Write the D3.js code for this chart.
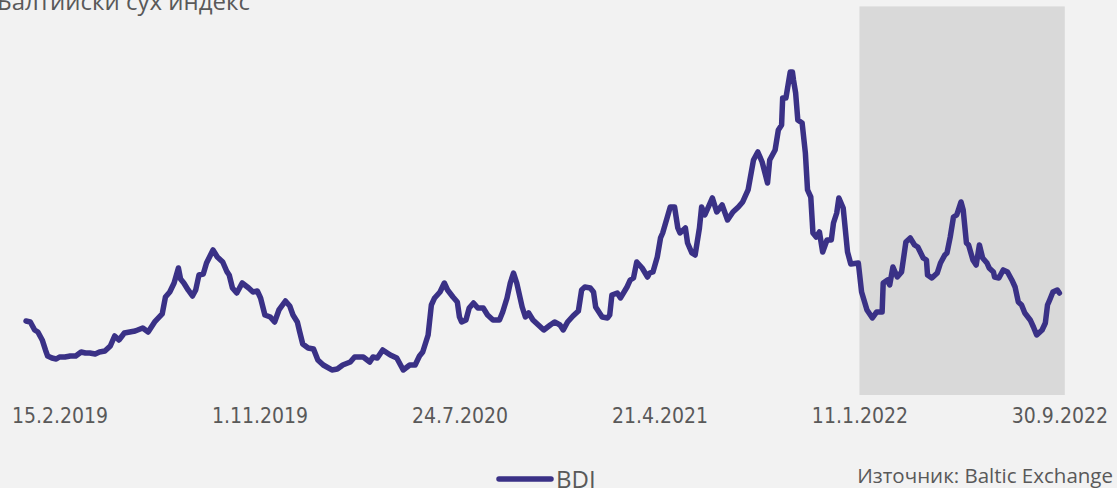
<!DOCTYPE html>
<html>
<head>
<meta charset="utf-8">
<script src="https://cdn.jsdelivr.net/npm/d3@7"></script>
<style>
    html, body { margin: 0; padding: 0; background: #f2f2f2; overflow: hidden; }
    svg { display: block; }
    text { fill: #595959; }
</style>
</head>
<body>
<div id="chart"></div>
<script>
// trading day (counted from the first value) and BDI close
let days = [
    0, 4, 8, 11, 15, 18, 20, 24, 28, 31, 36, 41, 46, 51, 55, 59, 64, 68, 73, 78,
    82, 86, 91, 96, 101, 108, 113, 119, 126, 129, 133, 137, 141, 143, 146, 150, 154, 157, 160, 164,
    167, 173, 177, 182, 186, 188, 191, 195, 200, 206, 210, 214, 217, 221, 226, 230, 234, 240, 244, 247,
    251, 253, 256, 261, 266, 270, 275, 283, 288, 293, 300, 304, 312, 318, 321, 325, 330, 337, 343, 349,
    355, 360, 364, 367, 372, 375, 378, 383, 387, 390, 395, 399, 401, 403, 407, 410, 414, 418, 423, 427,
    432, 438, 441, 445, 448, 451, 454, 459, 462, 465, 469, 474, 479, 485, 489, 494, 497, 501, 506, 511,
    514, 517, 522, 525, 527, 533, 538, 540, 542, 547, 550, 556, 559, 562, 565, 570, 575, 577, 580, 584,
    587, 589, 596, 600, 603, 605, 610, 612, 616, 619, 623, 625, 628, 635, 639, 644, 649, 654, 659, 663,
    668, 673, 677, 681, 686, 688, 693, 696, 699, 700, 703, 707, 709, 710, 712, 714, 718, 721, 723, 726,
    728, 731, 734, 737, 741, 745, 747, 750, 752, 756, 760, 763, 770, 773, 778, 783, 787, 792, 793, 797,
    799, 802, 806, 810, 814, 818, 822, 825, 830, 833, 834, 838, 843, 846, 850, 852, 855, 858, 861, 865,
    867, 870, 872, 876, 879, 882, 885, 889, 891, 895, 896, 900, 904, 908, 912, 915, 918, 921, 924, 929,
    932, 935, 940, 943, 945, 947, 950, 954, 956
];
let bdi = [
    1295, 1278, 1138, 1103, 963, 788, 683, 648, 630, 665, 665, 683, 683, 753, 735, 735, 718, 753, 770, 858,
    1033, 963, 1085, 1103, 1120, 1173, 1103, 1278, 1418, 1715, 1803, 1960, 2223, 2030, 1960, 1838, 1733, 1838, 2100, 2118,
    2310, 2538, 2415, 2328, 2153, 2100, 1873, 1785, 1960, 1873, 1803, 1820, 1698, 1400, 1365, 1278, 1488, 1645, 1558, 1400,
    1278, 1120, 893, 823, 805, 613, 525, 438, 455, 525, 578, 665, 665, 578, 665, 648, 788, 700, 648, 438,
    525, 525, 683, 753, 1050, 1575, 1698, 1803, 1960, 1838, 1715, 1628, 1365, 1278, 1313, 1523, 1610, 1523, 1523, 1400,
    1313, 1313, 1453, 1698, 1960, 2135, 1960, 1540, 1365, 1435, 1313, 1225, 1138, 1225, 1278, 1225, 1138, 1278, 1383, 1470,
    1838, 1890, 1873, 1803, 1540, 1365, 1348, 1400, 1750, 1785, 1698, 1890, 2013, 2048, 2328, 2223, 2065, 2135, 2153, 2415,
    2748, 2835, 3290, 3290, 2923, 2835, 2923, 2660, 2485, 2450, 2923, 3290, 3150, 3448, 3203, 3325, 3063, 3203, 3290, 3378,
    3588, 4113, 4253, 4078, 3710, 4113, 4288, 4638, 4725, 5198, 5198, 5653, 5653, 5513, 5285, 4813, 4760, 4235, 3588, 3465,
    2835, 2765, 2853, 2503, 2713, 2713, 3010, 3185, 3448, 3273, 2503, 2293, 2310, 1803, 1488, 1348, 1453, 1453, 1960, 2013,
    1925, 2240, 2065, 2153, 2678, 2748, 2625, 2590, 2398, 2363, 2100, 2048, 2135, 2310, 2450, 2485, 2765, 3115, 3150, 3378,
    3238, 2660, 2625, 2363, 2275, 2625, 2398, 2310, 2223, 2153, 2065, 2048, 2188, 2153, 2013, 1890, 1628, 1575, 1435, 1313,
    1190, 1050, 1138, 1260, 1575, 1663, 1803, 1838, 1785
];

// category labels shown under the chart, every 185 trading days
let tickDays = [31, 216, 401, 586, 771, 956];
let tickLabels = ['15.2.2019', '1.11.2019', '24.7.2020', '21.4.2021', '11.1.2022', '30.9.2022'];

// highlighted period (grey band) from 11.1.2022 on
let shadeFrom = 771;
let shadeTo = 961;
let shadeLevel = 6800;

let width = 1117, height = 488;
let svg, x, y;

document.addEventListener('DOMContentLoaded', function() {
    svg = d3.select('#chart').append('svg')
        .attr('width', width)
        .attr('height', height);
    init();
});

function init() {
    x = d3.scaleLinear()
        .domain([0, 956])
        .range([26, 1059.4]);
    y = d3.scaleLinear()
        .domain([0, 7000])
        .range([395, -5]);

    // grey band
    svg.append('rect')
        .attr('x', x(shadeFrom))
        .attr('y', y(shadeLevel))
        .attr('width', x(shadeTo) - x(shadeFrom))
        .attr('height', y(0) - y(shadeLevel))
        .attr('fill', '#d9d9d9');

    // title, partly cut by the top edge
    svg.append('text')
        .attr('x', -3)
        .attr('y', 10)
        .style('font-family', 'Open Sans, sans-serif')
        .style('font-size', '24px')
        .text('Балтийски сух индекс');

    // the BDI line
    let pts = days.map((d, i) => [d, bdi[i]]);
    let line = d3.line()
        .x(d => x(d[0]))
        .y(d => y(d[1]));

    svg.append('path')
        .datum(pts)
        .attr('d', line)
        .attr('fill', 'none')
        .attr('stroke', '#3a3186')
        .attr('stroke-width', 5.5)
        .attr('stroke-linejoin', 'round')
        .attr('stroke-linecap', 'round');

    // x axis labels only, no line or ticks
    let axis = d3.axisBottom(x)
        .tickValues(tickDays)
        .tickFormat((d, i) => tickLabels[i])
        .tickSize(0)
        .tickPadding(0);

    let g = svg.append('g')
        .attr('transform', 'translate(0, 408)')
        .call(axis);
    g.select('.domain').remove();
    g.selectAll('text')
        .attr('dy', '0.71em')
        .style('font-family', 'Liberation Sans Narrow, DejaVu Sans Condensed, sans-serif')
        .style('font-size', '21px')
        .style('fill', '#595959');

    // legend
    let legend = svg.append('g');
    legend.append('line')
        .attr('x1', 499).attr('x2', 551)
        .attr('y1', 479).attr('y2', 479)
        .attr('stroke', '#3a3186')
        .attr('stroke-width', 5.5)
        .attr('stroke-linecap', 'round');
    legend.append('text')
        .attr('x', 556)
        .attr('y', 488)
        .style('font-family', 'Open Sans, sans-serif')
        .style('font-size', '24px')
        .text('BDI');

    // source
    svg.append('text')
        .attr('x', 1113)
        .attr('y', 483)
        .attr('text-anchor', 'end')
        .style('font-family', 'Open Sans, sans-serif')
        .style('font-size', '20.5px')
        .text('Източник: Baltic Exchange');
}
</script>
</body>
</html>
